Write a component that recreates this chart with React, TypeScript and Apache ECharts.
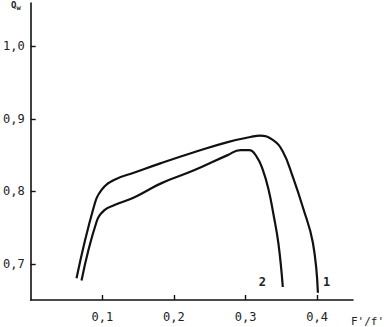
import React, { useEffect, useRef } from "react";
import * as echarts from "echarts";

const xTicks = [0.1, 0.2, 0.3, 0.4];
const yTicks = [0.7, 0.8, 0.9, 1.0];

const curve1X = [0.064, 0.088, 0.099, 0.117, 0.145, 0.182, 0.228, 0.275, 0.307, 0.32, 0.338, 0.352, 0.366, 0.38, 0.394, 0.401];
const curve1Y = [0.68, 0.778, 0.802, 0.816, 0.826, 0.839, 0.854, 0.868, 0.875, 0.877, 0.871, 0.855, 0.82, 0.778, 0.729, 0.66];

const curve2X = [0.071, 0.092, 0.103, 0.117, 0.145, 0.182, 0.228, 0.275, 0.293, 0.305, 0.316, 0.324, 0.332, 0.339, 0.346, 0.352];
const curve2Y = [0.677, 0.758, 0.774, 0.781, 0.792, 0.811, 0.829, 0.85, 0.857, 0.857, 0.847, 0.83, 0.803, 0.768, 0.727, 0.668];

const fmt = (v: number) => v.toFixed(1).replace(".", ",");
const mono = "DejaVu Sans Mono";

const toData = (xs: number[], ys: number[]) => xs.map((x, i) => [x, ys[i]]);

export default function App() {
  const ref = useRef<HTMLDivElement>(null);
  useEffect(() => {
    const chart = echarts.init(ref.current!, null, { renderer: "svg" });
    const endLbl = (name: string, offset: number[], distance: number) => ({
      show: true,
      formatter: name,
      offset,
      distance,
      color: "#222",
      fontFamily: mono,
      fontSize: 12,
      fontWeight: "bold",
    });
    chart.setOption({
      animation: false,
      backgroundColor: "#fff",
      grid: { left: 30, right: 38, top: 3, bottom: 27 },
      xAxis: {
        type: "value",
        min: 0,
        max: 0.45,
        splitLine: { show: false },
        axisLine: { show: true, lineStyle: { color: "#111", width: 1.6 } },
        axisTick: { show: true, inside: true, length: 5, customValues: xTicks, lineStyle: { color: "#111", width: 1.4 } },
        axisLabel: { customValues: xTicks, formatter: fmt, margin: 11, color: "#222", fontFamily: mono, fontSize: 12 },
      },
      yAxis: {
        type: "value",
        min: 0.65,
        max: 1.06,
        splitLine: { show: false },
        axisLine: { show: true, lineStyle: { color: "#111", width: 1.6 } },
        axisTick: { show: true, inside: true, length: 5, customValues: yTicks, lineStyle: { color: "#111", width: 1.4 } },
        axisLabel: { customValues: yTicks, formatter: fmt, margin: 6, color: "#222", fontFamily: mono, fontSize: 12 },
      },
      graphic: [
        {
          type: "text",
          left: 11,
          top: 0,
          style: {
            text: "{a|Q}{b|w}",
            rich: {
              a: { fontFamily: mono, fontSize: 9, fontWeight: "bold", fill: "#222" },
              b: { fontFamily: mono, fontSize: 7, fontWeight: "bold", fill: "#222", padding: [6, 0, 0, 0] },
            },
          },
        },
        {
          type: "text",
          left: 351,
          top: 316,
          style: { text: "F'/f'", fontFamily: mono, fontSize: 11, fill: "#222" },
        },
      ],
      series: [
        {
          type: "line",
          name: "1",
          smooth: 0.45,
          showSymbol: false,
          symbol: "none",
          lineStyle: { color: "#111", width: 2.2 },
          endLabel: endLbl("1", [0, -11], 5),
          data: toData(curve1X, curve1Y),
        },
        {
          type: "line",
          name: "2",
          smooth: 0.45,
          showSymbol: false,
          symbol: "none",
          lineStyle: { color: "#111", width: 2.2 },
          endLabel: endLbl("2", [-24, -5], 0),
          data: toData(curve2X, curve2Y),
        },
      ],
    });
    return () => chart.dispose();
  }, []);
  return <div ref={ref} style={{ width: 391, height: 327, position: "absolute", left: 0, top: 0 }} />;
}
